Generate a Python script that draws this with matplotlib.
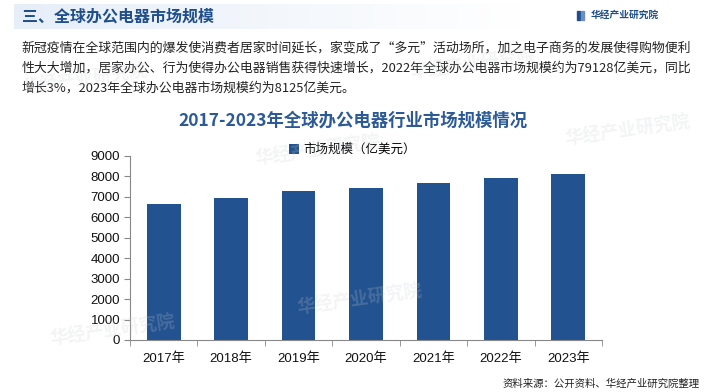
import numpy as np
import matplotlib
matplotlib.use('Agg')
import matplotlib.pyplot as plt
from matplotlib.patches import Rectangle

plt.rcParams['font.family'] = ['Liberation Sans', 'Noto Sans CJK SC', 'DejaVu Sans']

years = ['2017年', '2018年', '2019年', '2020年', '2021年', '2022年', '2023年']
market_size = [6640, 6935, 7280, 7425, 7670, 7913, 8125]
series_name = '市场规模（亿美元）'
y_ticks = [0, 1000, 2000, 3000, 4000, 5000, 6000, 7000, 8000, 9000]

header = '三、全球办公电器市场规模'
chart_title = '2017-2023年全球办公电器行业市场规模情况'
paragraph = ['新冠疫情在全球范围内的爆发使消费者居家时间延长，家变成了“多元”活动场所，加之电子商务的发展使得购物便利',
             '性大大增加，居家办公、行为使得办公电器销售获得快速增长，2022年全球办公电器市场规模约为79128亿美元，同比',
             '增长3%，2023年全球办公电器市场规模约为8125亿美元。']
source = '资料来源：公开资料、华经产业研究院整理'
brand = '华经产业研究院'

bar_color = '#22528f'
dark_blue = '#1f4e8c'
cjk = ['Noto Sans CJK SC', 'DejaVu Sans']

fig = plt.figure(figsize=(7.05, 3.92), dpi=100)

# header band
band = np.linspace(0, 1, 256).reshape(1, -1)
hax = fig.add_axes([0.02, 0.925, 0.72, 0.065])
hax.imshow(band, aspect='auto', cmap=matplotlib.colors.LinearSegmentedColormap.from_list(
    'hb', ['#e6eef8', '#f3f7fc', '#ffffff']))
hax.axis('off')
fig.text(0.031, 0.958, header, fontsize=11.5, fontweight='bold', color=dark_blue,
         va='center', family=cjk)
fig.patches.append(Rectangle((0.818, 0.95), 0.004, 0.022, transform=fig.transFigure,
                             color=dark_blue))
fig.patches.append(Rectangle((0.824, 0.95), 0.004, 0.022, transform=fig.transFigure,
                             color='#6d8fbf'))
fig.text(0.838, 0.961, brand, fontsize=7, fontweight='bold', color=dark_blue,
         va='center', family=cjk)

# paragraph
for i, line in enumerate(paragraph):
    fig.text(0.031, 0.878 - i * 0.051, line, fontsize=9.3, color='#222222',
             va='center', family=cjk)

# faint watermarks
for (wx, wy) in [(0.03, 0.76), (0.36, 0.58), (0.58, 0.80), (0.07, 0.12), (0.42, 0.20), (0.80, 0.63)]:
    fig.text(wx, wy, brand, fontsize=13, fontweight='bold', color='#c9ccd3', alpha=0.22,
             rotation=8, family=cjk)

fig.text(0.5, 0.693, chart_title, fontsize=12.5, fontweight='bold', color='#2b5a97',
         ha='center', va='center', family=cjk)

ax = fig.add_axes([0.1844, 0.1327, 0.6695, 0.4701])
x = np.arange(len(years))
ax.bar(x, market_size, width=0.5, color=bar_color, label=series_name, zorder=2)
ax.set_xlim(-0.5, len(years) - 0.5)
ax.set_ylim(0, 9000)
ax.set_yticks(y_ticks)
ax.set_xticks(x)
ax.set_xticklabels(years)
ax.set_xticks(np.arange(-0.5, len(years), 1.0), minor=True)
ax.tick_params(axis='x', which='major', length=0, pad=9, labelsize=9.5)
ax.tick_params(axis='x', which='minor', length=4, direction='out', color='#888888')
ax.tick_params(axis='y', length=4, direction='out', color='#888888', labelsize=9.5, pad=3)
for s in ['top', 'right']:
    ax.spines[s].set_visible(False)
for s in ['left', 'bottom']:
    ax.spines[s].set_color('#888888')
    ax.spines[s].set_linewidth(0.8)
for lbl in ax.get_xticklabels() + ax.get_yticklabels():
    lbl.set_color('#111111')

ax.legend(loc='center', bbox_to_anchor=(0.5, 0.618), bbox_transform=fig.transFigure,
          frameon=False, handlelength=0.8, handleheight=0.8, handletextpad=0.4,
          prop={'family': cjk, 'size': 9})

fig.text(0.993, 0.022, source, fontsize=7.5, color='#222222', ha='right', va='center',
         family=cjk)

fig.savefig('out.png', dpi=100)
